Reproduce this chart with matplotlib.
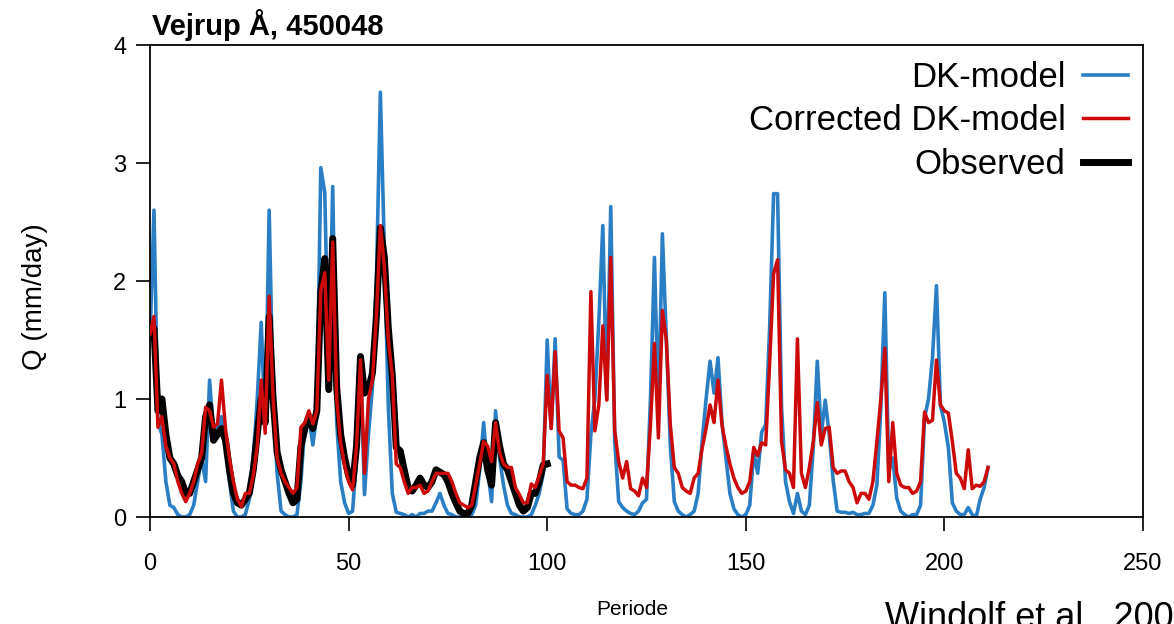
import matplotlib
matplotlib.use("Agg")
import matplotlib.pyplot as plt
import numpy as np

plt.rcParams['font.family'] = ['Liberation Sans', 'DejaVu Sans']

title = "Vejrup Å, 450048"
xlabel = "Periode"
ylabel = "Q (mm/day)"
credit = "Windolf et al., 2009"
labels = ["DK-model", "Corrected DK-model", "Observed"]
xticks = [0, 50, 100, 150, 200, 250]
yticks = [0, 1, 2, 3, 4]

dk_model = [
    1.5, 2.6, 0.8, 0.7, 0.3, 0.1, 0.08, 0.02, 0.0, 0.0,
    0.02, 0.1, 0.3, 0.5, 0.3, 1.16, 0.7, 0.75, 0.85, 0.6,
    0.3, 0.05, 0.0, 0.0, 0.02, 0.15, 0.5, 1.0, 1.65, 0.75,
    2.6, 1.0, 0.37, 0.05, 0.02, 0.0, 0.0, 0.02, 0.3, 0.8,
    0.85, 0.61, 0.87, 2.96, 2.75, 1.2, 2.8, 0.8, 0.3, 0.12,
    0.03, 0.05, 0.5, 1.3, 0.19, 0.7, 1.1, 2.0, 3.6, 2.27,
    0.93, 0.2, 0.04, 0.03, 0.02, 0.0, 0.02, 0.0, 0.03, 0.03,
    0.05, 0.05, 0.12, 0.2, 0.1, 0.03, 0.02, 0.0, 0.0, 0.0,
    0.02, 0.02, 0.1, 0.4, 0.8, 0.4, 0.13, 0.9, 0.5, 0.27,
    0.1, 0.03, 0.02, 0.0, 0.0, 0.0, 0.02, 0.1, 0.2, 0.37,
    1.5, 0.75, 1.51, 0.51, 0.48, 0.07, 0.03, 0.02, 0.02, 0.05,
    0.15, 0.7, 1.0, 1.66, 2.47, 1.0, 2.63, 0.64, 0.13, 0.08,
    0.05, 0.03, 0.02, 0.05, 0.12, 0.15, 1.0, 2.2, 0.9, 2.4,
    1.5, 0.6, 0.13, 0.05, 0.02, 0.0, 0.02, 0.05, 0.2, 0.64,
    1.0, 1.32, 1.05, 1.35, 0.8, 0.5, 0.2, 0.07, 0.02, 0.0,
    0.02, 0.1, 0.55, 0.37, 0.72, 0.78, 1.6, 2.74, 2.74, 0.93,
    0.3, 0.13, 0.03, 0.2, 0.05, 0.02, 0.1, 0.6, 1.32, 0.7,
    0.99, 0.7, 0.31, 0.05, 0.04, 0.04, 0.03, 0.04, 0.02, 0.02,
    0.03, 0.03, 0.1, 0.27, 0.93, 1.9, 0.39, 0.5, 0.16, 0.05,
    0.02, 0.0, 0.02, 0.02, 0.1, 0.84, 1.0, 1.35, 1.96, 0.95,
    0.8, 0.59, 0.12, 0.05, 0.02, 0.02, 0.08, 0.02, 0.0, 0.15,
    0.25, 0.42,
]

corrected = [
    1.55, 1.7, 0.76, 0.85, 0.6, 0.5, 0.45, 0.3, 0.2, 0.13,
    0.2, 0.3, 0.45, 0.54, 0.93, 0.9, 0.76, 0.79, 1.16, 0.75,
    0.5, 0.3, 0.15, 0.09, 0.2, 0.2, 0.35, 0.6, 1.16, 0.71,
    1.87, 1.0, 0.5, 0.37, 0.3, 0.25, 0.2, 0.25, 0.76, 0.8,
    0.9, 0.79, 0.9, 1.92, 2.07, 1.16, 2.33, 1.0, 0.63, 0.44,
    0.3, 0.23, 0.6, 1.33, 0.37, 1.0, 1.16, 1.7, 2.47, 2.12,
    1.5, 1.2, 0.45, 0.42, 0.3, 0.2, 0.25, 0.25, 0.27, 0.2,
    0.22, 0.3, 0.37, 0.37, 0.37, 0.37, 0.3, 0.2, 0.12, 0.1,
    0.08, 0.1, 0.27, 0.45, 0.64, 0.6, 0.47, 0.8, 0.55, 0.45,
    0.42, 0.42, 0.25, 0.19, 0.12, 0.12, 0.28, 0.25, 0.35, 0.45,
    1.2, 0.75, 1.4, 0.73, 0.67, 0.3, 0.27, 0.27, 0.25, 0.24,
    0.33, 1.91, 0.73, 0.95, 1.62, 0.99, 2.2, 0.73, 0.47, 0.33,
    0.47, 0.24, 0.22, 0.18, 0.33, 0.25, 0.78, 1.47, 0.67, 1.75,
    1.5, 0.78, 0.42, 0.37, 0.25, 0.22, 0.2, 0.33, 0.37, 0.58,
    0.75, 0.95, 0.8, 1.16, 0.78, 0.6, 0.45, 0.33, 0.25, 0.2,
    0.22, 0.3, 0.59, 0.52, 0.63, 0.61, 1.3, 2.06, 2.18, 0.64,
    0.4, 0.37, 0.25, 1.51, 0.37, 0.25, 0.42, 0.64, 0.97, 0.61,
    0.75, 0.76, 0.42, 0.37, 0.39, 0.39, 0.3, 0.25, 0.12, 0.2,
    0.2, 0.15, 0.3, 0.64, 1.0, 1.43, 0.3, 0.8, 0.37, 0.27,
    0.25, 0.25, 0.2, 0.22, 0.3, 0.89, 0.8, 0.82, 1.33, 0.95,
    0.9, 0.88, 0.64, 0.37, 0.33, 0.24, 0.57, 0.24, 0.27, 0.26,
    0.3, 0.42,
]

observed = [
    1.6, 1.6, 0.9, 1.0, 0.7, 0.5, 0.45, 0.35, 0.3, 0.2,
    0.2, 0.3, 0.4, 0.5, 0.85, 0.95, 0.65, 0.7, 0.75, 0.65,
    0.4, 0.2, 0.12, 0.1, 0.15, 0.2, 0.4, 0.7, 1.0, 0.8,
    1.7, 1.0, 0.55, 0.4, 0.3, 0.2, 0.12, 0.15, 0.6, 0.75,
    0.85, 0.75, 0.9, 1.9, 2.19, 1.08, 2.36, 1.1, 0.7, 0.5,
    0.35, 0.27, 0.6, 1.36, 1.05, 1.08, 1.22, 1.7, 2.45, 2.2,
    1.6, 1.2, 0.59, 0.56, 0.4, 0.25, 0.22, 0.27, 0.33, 0.27,
    0.25, 0.3, 0.4, 0.38, 0.36, 0.3, 0.2, 0.12, 0.05, 0.03,
    0.03, 0.1, 0.3, 0.5, 0.63, 0.4, 0.27, 0.8, 0.6, 0.45,
    0.4, 0.3, 0.2, 0.1, 0.05, 0.08, 0.2, 0.2, 0.3, 0.44,
    0.45,
]

W, H = 1174, 624
fig = plt.figure(figsize=(W / 100, H / 100), dpi=100)
ax = fig.add_axes([150 / W, 1 - 517 / H, (1143 - 150) / W, (517 - 45) / H])

x_dk = np.arange(len(dk_model))
x_co = np.arange(len(corrected))
x_ob = np.arange(len(observed))

l1, = ax.plot(x_dk, dk_model, color='#2a7fc4', lw=2.6, zorder=2)
l3, = ax.plot(x_ob, observed, color='black', lw=5.0, zorder=3)
l2, = ax.plot(x_co, corrected, color='#cc0a0a', lw=2.5, zorder=4)

ax.set_xlim(0, 250)
ax.set_ylim(0, 4)
ax.set_xticks(xticks)
ax.set_yticks(yticks)
ax.tick_params(axis='both', direction='out', length=10, width=1.2, labelsize=17,
               top=False, right=False)
ax.tick_params(axis='x', pad=16)
ax.tick_params(axis='y', pad=7)
for s in ax.spines.values():
    s.set_linewidth(1.3)

ax.set_xlabel(xlabel, fontsize=15)
ax.xaxis.set_label_coords((632 - 150) / 993, (517 - 600) / 472)
ax.set_ylabel(ylabel, fontsize=20)
ax.yaxis.set_label_coords((48 - 150) / 993, (517 - 297) / 472)

fig.text(152 / W, 1 - 35 / H, title, fontsize=21, fontweight='bold',
         ha='left', va='baseline')

leg = ax.legend([l1, l2, l3], labels, loc='upper right', frameon=False,
                markerfirst=False, fontsize=25, handlelength=1.3,
                handletextpad=0.5, labelspacing=0.3, borderaxespad=0.0,
                borderpad=0.0,
                bbox_to_anchor=((1128 - 150) / 993, (517 - 61) / 472))

fig.text(885 / W, 1 - 628 / H, credit, fontsize=26, ha='left', va='baseline')

fig.savefig("out.png", dpi=100)
